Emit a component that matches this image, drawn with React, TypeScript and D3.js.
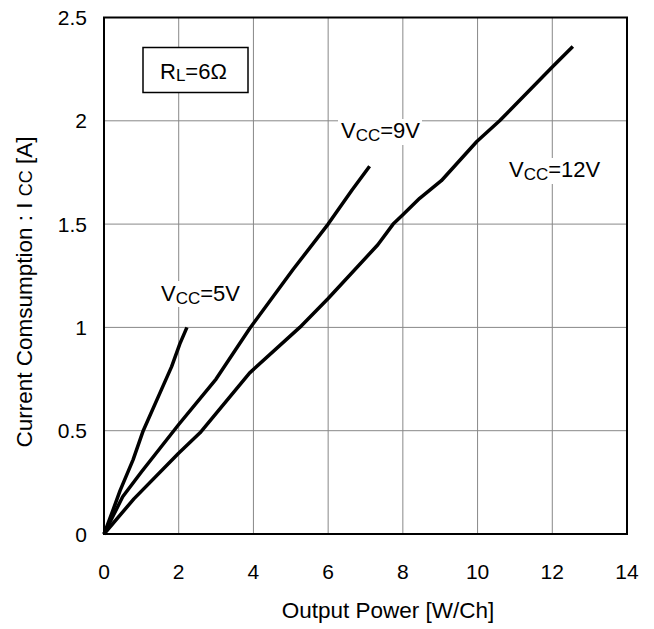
import * as d3 from "d3";

// Output power [W/Ch] vs current consumption [A]
const power5 = [0, 0.25, 0.43, 0.78, 1.05, 1.54, 1.81, 2.03, 2.22];
const current5 = [0, 0.12, 0.21, 0.36, 0.5, 0.7, 0.81, 0.92, 1.0];

const power9 = [0, 0.5, 1.0, 2.0, 3.0, 3.9, 5.06, 6.0, 6.64, 7.11];
const current9 = [0, 0.18, 0.3, 0.53, 0.75, 0.995, 1.28, 1.5, 1.665, 1.78];

const power12 = [0, 0.8, 1.99, 2.57, 3.9, 5.24, 6.0, 7.33, 7.74, 8.0, 8.45, 9.03, 9.98, 10.59, 12.0, 12.55];
const current12 = [0, 0.17, 0.39, 0.49, 0.78, 1.0, 1.14, 1.4, 1.5, 1.545, 1.625, 1.71, 1.9, 2.0, 2.26, 2.36];

const xTicks = [0, 2, 4, 6, 8, 10, 12, 14];
const yTicks = [0, 0.5, 1, 1.5, 2, 2.5];

const series = [
  { name: "5V", p: power5, i: current5 },
  { name: "9V", p: power9, i: current9 },
  { name: "12V", p: power12, i: current12 },
];

const FONT = "'Liberation Sans', Arial, sans-serif";

export default function App() {
  const width = 654;
  const height = 629;
  const left = 104;
  const right = 627;
  const top = 17.5;
  const bottom = 534;

  const x = d3.scaleLinear().domain([0, 14]).range([left, right]);
  const y = d3.scaleLinear().domain([0, 2.5]).range([bottom, top]);

  const line = d3
    .line<[number, number]>()
    .x((d) => x(d[0]))
    .y((d) => y(d[1]));

  return (
    <svg
      width={width}
      height={height}
      style={{ position: "absolute", left: 0, top: 0, background: "#fff" }}
      fontFamily={FONT}
    >
      {/* grid */}
      {xTicks.slice(1, -1).map((t) => (
        <line key={"gx" + t} x1={x(t)} x2={x(t)} y1={top} y2={bottom} stroke="#888" strokeWidth={1} />
      ))}
      {yTicks.slice(1, -1).map((t) => (
        <line key={"gy" + t} x1={left} x2={right} y1={y(t)} y2={y(t)} stroke="#888" strokeWidth={1} />
      ))}

      {/* label backgrounds so grid lines don't run through text */}
      <rect x={158} y={281} width={84} height={26} fill="#fff" />
      <rect x={338} y={119} width={84} height={26} fill="#fff" />
      <rect x={507} y={158} width={98} height={26} fill="#fff" />

      {/* curves */}
      {series.map((s) => (
        <path
          key={s.name}
          d={line(s.p.map((v, k) => [v, s.i[k]] as [number, number])) || ""}
          fill="none"
          stroke="#000"
          strokeWidth={3.5}
          strokeLinejoin="round"
          strokeLinecap="butt"
        />
      ))}

      {/* plot frame */}
      <rect x={left} y={top} width={right - left} height={bottom - top} fill="none" stroke="#000" strokeWidth={2} />

      {/* tick labels */}
      {xTicks.map((t) => (
        <text key={"tx" + t} x={x(t)} y={579} fontSize={21} textAnchor="middle" fill="#000">
          {t}
        </text>
      ))}
      {yTicks.map((t) => (
        <text key={"ty" + t} x={87} y={y(t) + 7.5} fontSize={21} textAnchor="end" fill="#000">
          {t}
        </text>
      ))}

      {/* axis titles */}
      <text x={388} y={618} fontSize={22.5} textAnchor="middle" fill="#000">
        Output Power [W/Ch]
      </text>
      <text transform="translate(32,292) rotate(-90)" fontSize={22.5} textAnchor="middle" fill="#000">
        Current Comsumption : I <tspan fontSize={18}>CC</tspan> [A]
      </text>

      {/* curve labels */}
      <text x={161} y={301} fontSize={22} fill="#000">
        V<tspan fontSize={17} dy={3}>CC</tspan>
        <tspan dy={-3}>=5V</tspan>
      </text>
      <text x={341} y={138} fontSize={22} fill="#000">
        V<tspan fontSize={17} dy={3}>CC</tspan>
        <tspan dy={-3}>=9V</tspan>
      </text>
      <text x={509} y={177} fontSize={22} fill="#000">
        V<tspan fontSize={17} dy={3}>CC</tspan>
        <tspan dy={-3}>=12V</tspan>
      </text>

      {/* load box */}
      <rect x={143} y={47.5} width={105} height={45} fill="#fff" stroke="#000" strokeWidth={1.5} />
      <text x={160} y={79} fontSize={22} fill="#000">
        R<tspan fontSize={17} dy={2}>L</tspan>
        <tspan dy={-2}>=6Ω</tspan>
      </text>
    </svg>
  );
}
